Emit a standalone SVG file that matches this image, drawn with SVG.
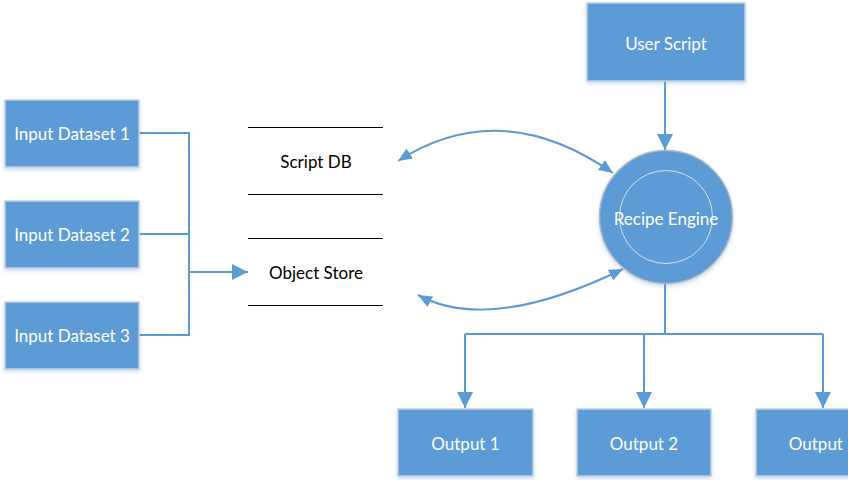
<svg xmlns="http://www.w3.org/2000/svg" width="848" height="480" viewBox="0 0 848 480">
  <style>
    .box { fill: #5B9BD5; stroke: #C3CFDC; stroke-width: 1.5; filter: url(#shadow); }
    .lbl { fill: #FFFFFF; font-family: Lato, "Open Sans", "Liberation Sans", sans-serif; font-size: 17px; text-anchor: middle; dominant-baseline: central; }
    .store-lbl { fill: #000000; font-family: Lato, "Open Sans", "Liberation Sans", sans-serif; font-size: 17px; text-anchor: middle; dominant-baseline: central; }
    .store-line { stroke: #000000; stroke-width: 1; }
    .conn { fill: none; stroke: #5B9BD5; stroke-width: 2; }
  </style>
  <defs>
    <filter id="shadow" x="-10%" y="-10%" width="120%" height="130%">
      <feDropShadow dx="0" dy="2" stdDeviation="2" flood-color="#5B9BD5" flood-opacity="0.35"/>
    </filter>
    <marker id="arrow" viewBox="0 0 16 16" refX="16" refY="8" markerWidth="16" markerHeight="16" markerUnits="userSpaceOnUse" orient="auto-start-reverse">
      <path d="M0,0 L16,8 L0,16 Z" fill="#5B9BD5"/>
    </marker>
    <marker id="arrowSmall" viewBox="0 0 14 12" refX="14" refY="6" markerWidth="14" markerHeight="12" markerUnits="userSpaceOnUse" orient="auto-start-reverse">
      <path d="M0,0 L14,6 L0,12 Z" fill="#5B9BD5"/>
    </marker>
  </defs>

  <!-- connectors -->
  <g id="connectors">
    <path class="conn" d="M139,133 H189 V335 H139"/>
    <path class="conn" d="M139,234 H189"/>
    <path class="conn" d="M189,272 H248" marker-end="url(#arrow)"/>
    <path class="conn" d="M665,81 V150" marker-end="url(#arrow)"/>
    <path class="conn" d="M398,161 Q500.5,95 613,173" marker-start="url(#arrowSmall)" marker-end="url(#arrowSmall)"/>
    <path class="conn" d="M418,295 Q489.5,334 623,269" marker-start="url(#arrowSmall)" marker-end="url(#arrowSmall)"/>
    <path class="conn" d="M665,283 V334"/>
    <path class="conn" d="M465,334 H823"/>
    <path class="conn" d="M465,334 V408" marker-end="url(#arrow)"/>
    <path class="conn" d="M644,334 V408" marker-end="url(#arrow)"/>
    <path class="conn" d="M823,334 V408" marker-end="url(#arrow)"/>
  </g>

  <g id="input1">
    <rect class="box" x="5" y="100" width="134" height="67"/>
    <text class="lbl" x="72" y="133.5">Input Dataset 1</text>
  </g>
  <g id="input2">
    <rect class="box" x="5" y="201" width="134" height="67"/>
    <text class="lbl" x="72" y="234.5">Input Dataset 2</text>
  </g>
  <g id="input3">
    <rect class="box" x="5" y="302" width="134" height="67"/>
    <text class="lbl" x="72" y="335.5">Input Dataset 3</text>
  </g>

  <g id="script-db">
    <line class="store-line" x1="248" y1="127.5" x2="383" y2="127.5"/>
    <line class="store-line" x1="248" y1="194.5" x2="383" y2="194.5"/>
    <text class="store-lbl" x="316" y="161">Script DB</text>
  </g>
  <g id="object-store">
    <line class="store-line" x1="248" y1="238.5" x2="383" y2="238.5"/>
    <line class="store-line" x1="248" y1="305.5" x2="383" y2="305.5"/>
    <text class="store-lbl" x="316" y="272">Object Store</text>
  </g>

  <g id="user-script">
    <rect class="box" x="587" y="3" width="158" height="78"/>
    <text class="lbl" x="666" y="43">User Script</text>
  </g>

  <g id="recipe-engine">
    <circle cx="666" cy="217" r="66.5" fill="#5B9BD5" stroke="#B4B9C0" stroke-width="1.5" filter="url(#shadow)"/>
    <circle cx="666" cy="217" r="46.5" fill="none" stroke="#D9DEE5" stroke-width="1"/>
    <text class="lbl" x="666" y="218">Recipe Engine</text>
  </g>

  <g id="output1">
    <rect class="box" x="398" y="409" width="135" height="67"/>
    <text class="lbl" x="465.5" y="443">Output 1</text>
  </g>
  <g id="output2">
    <rect class="box" x="577" y="409" width="134" height="67"/>
    <text class="lbl" x="644" y="443">Output 2</text>
  </g>
  <g id="output3">
    <rect class="box" x="756" y="409" width="134" height="67"/>
    <text class="lbl" x="823" y="443">Output 3</text>
  </g>
</svg>
